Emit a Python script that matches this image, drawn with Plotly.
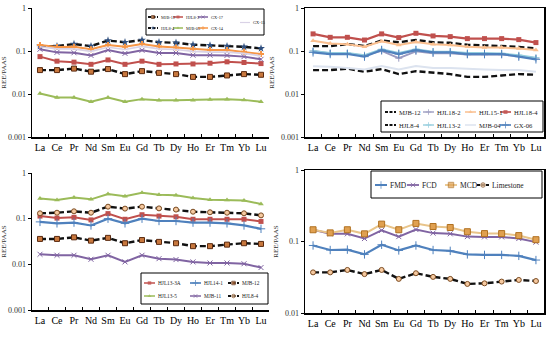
import plotly.graph_objects as go

elements = ["La", "Ce", "Pr", "Nd", "Sm", "Eu", "Gd", "Tb", "Dy", "Ho", "Er", "Tm", "Yb", "Lu"]

# Panel 1
mjb12 = [0.036, 0.036, 0.039, 0.033, 0.038, 0.029, 0.034, 0.031, 0.029, 0.025, 0.025, 0.027, 0.029, 0.028]
hjl8_4 = [0.13, 0.13, 0.145, 0.13, 0.175, 0.16, 0.18, 0.16, 0.155, 0.14, 0.135, 0.13, 0.125, 0.115]
hjl8_3 = [0.074, 0.058, 0.055, 0.049, 0.062, 0.049, 0.058, 0.049, 0.050, 0.050, 0.052, 0.056, 0.054, 0.051]
gx17 = [0.11, 0.093, 0.091, 0.079, 0.105, 0.088, 0.104, 0.090, 0.090, 0.080, 0.080, 0.079, 0.074, 0.064]
gx15 = [0.125, 0.112, 0.112, 0.098, 0.122, 0.108, 0.128, 0.112, 0.108, 0.098, 0.094, 0.094, 0.088, 0.077]
gx14 = [0.138, 0.124, 0.126, 0.110, 0.138, 0.126, 0.146, 0.128, 0.120, 0.110, 0.105, 0.105, 0.096, 0.085]
mjb05 = [0.0103, 0.0083, 0.0083, 0.0066, 0.0083, 0.0066, 0.0076, 0.0072, 0.0072, 0.0072, 0.0074, 0.0076, 0.0073, 0.0066]

# Panel 2
hjl18_4 = [0.25, 0.208, 0.208, 0.18, 0.25, 0.205, 0.258, 0.224, 0.216, 0.194, 0.194, 0.194, 0.184, 0.157]
hjl15_1 = [0.174, 0.15, 0.143, 0.126, 0.168, 0.138, 0.162, 0.143, 0.138, 0.126, 0.12, 0.12, 0.115, 0.105]
gx06 = [0.093, 0.085, 0.085, 0.074, 0.105, 0.085, 0.105, 0.093, 0.093, 0.085, 0.085, 0.085, 0.074, 0.064]
hjl18_2 = [0.10, 0.088, 0.088, 0.078, 0.10, 0.068, 0.098, 0.088, 0.088, 0.082, 0.082, 0.082, 0.076, 0.068]
hjl13_2 = [0.10, 0.09, 0.09, 0.08, 0.11, 0.09, 0.11, 0.097, 0.097, 0.09, 0.09, 0.088, 0.08, 0.07]
mjb04 = [0.044, 0.043, 0.040, 0.037, 0.045, 0.037, 0.045, 0.040, 0.040, 0.038, 0.037, 0.036, 0.036, 0.033]

# Panel 3
hjl13_5 = [0.275, 0.257, 0.289, 0.265, 0.348, 0.31, 0.37, 0.336, 0.325, 0.284, 0.26, 0.257, 0.25, 0.21]
hjl8_4b = [0.131, 0.135, 0.145, 0.135, 0.183, 0.166, 0.183, 0.168, 0.158, 0.142, 0.138, 0.135, 0.131, 0.118]
hjl13_3a = [0.114, 0.103, 0.107, 0.094, 0.129, 0.097, 0.122, 0.114, 0.11, 0.097, 0.097, 0.097, 0.097, 0.087]
hjl14_1 = [0.085, 0.079, 0.082, 0.071, 0.10, 0.079, 0.10, 0.089, 0.089, 0.082, 0.082, 0.079, 0.071, 0.06]
mjb11 = [0.0166, 0.0158, 0.0158, 0.0129, 0.0158, 0.0113, 0.0158, 0.0133, 0.0127, 0.0113, 0.0107, 0.0107, 0.0103, 0.0085]

# Panel 4
mcd = [0.146, 0.132, 0.146, 0.128, 0.175, 0.146, 0.179, 0.162, 0.157, 0.137, 0.129, 0.129, 0.121, 0.106]
fcd = [0.146, 0.128, 0.128, 0.11, 0.143, 0.117, 0.147, 0.131, 0.128, 0.117, 0.116, 0.116, 0.11, 0.098]
fmd = [0.088, 0.076, 0.077, 0.066, 0.09, 0.075, 0.088, 0.076, 0.074, 0.066, 0.065, 0.065, 0.063, 0.055]
limestone = [0.037, 0.037, 0.040, 0.035, 0.040, 0.030, 0.036, 0.032, 0.030, 0.0255, 0.026, 0.0275, 0.029, 0.028]

SERIF = "Liberation Serif"
BLACK = "#111111"
W, H = 550, 337
fig = go.Figure()


def style(color, width=1.8, dash=None, symbol=None, msize=5, mcolor=None, mline=None):
    return dict(color=color, width=width, dash=dash, symbol=symbol, msize=msize,
                mcolor=mcolor or color, mline=mline)


def marker(st, scale=1.0):
    return dict(symbol=st["symbol"] or "circle",
                size=(st["msize"] * scale) if st["symbol"] else 0,
                color=st["mcolor"],
                line=dict(color=st["mline"] or st["mcolor"], width=1 if st["mline"] else 0))


def add(y, name, ax, st):
    fig.add_trace(go.Scatter(
        x=elements, y=y, name=name, showlegend=False,
        mode="lines+markers" if st["symbol"] else "lines",
        line=dict(color=st["color"], width=st["width"], dash=st["dash"]),
        marker=marker(st), xaxis="x" + ax, yaxis="y" + ax))


DASH = "6px,3px"
S_MJB12 = style(BLACK, 2.4, DASH, "square", 5, "#c8783e", "#5a2a10")
S_HJL84_1 = style(BLACK, 2.4, DASH, "star", 6, "#2f4f7f")
S_RED = style("#c0504d", 2.0, None, "square", 5)
S_GREEN = style("#9bbb59", 2.0, None, "triangle-up", 5)
S_PURPLE = style("#8064a2", 2.0, None, "x-thin", 5, None, "#8064a2")
S_ORANGE = style("#f79646", 2.0, None, "cross", 5)
S_GX15 = style("#d9d2e6", 1.6)
S_DASH = style(BLACK, 2.4, DASH)
S_HJL182 = style("#9a9ac0", 1.8, None, "cross-thin", 5, None, "#9a9ac0")
S_HJL132 = style("#93cddd", 1.8, None, "cross-thin", 5, None, "#93cddd")
S_HJL151 = style("#fabf8f", 2.0, None, "triangle-up", 5)
S_MJB04 = style("#dce3ef", 2.0)
S_HJL184 = style("#c0504d", 2.2, None, "square", 5)
S_BLUE = style("#4f81bd", 2.2, None, "cross-thin", 6, None, "#4f81bd")
S_HJL84_3 = style(BLACK, 2.4, DASH, "circle", 5, "#f5c9a0", "#7a4a20")
S_MCD = style("#e8c48a", 2.0, None, "square", 6, "#e0a050", "#b07020")

# (values, name, style, legend column, legend row)
panels = {
    "": [(mjb12, "MJB-12", S_MJB12, 0, 0), (hjl8_4, "HJL8-4", S_HJL84_1, 0, 1),
         (hjl8_3, "HJL8-3", S_RED, 1, 0), (mjb05, "MJB-05", S_GREEN, 1, 1),
         (gx17, "GX-17", S_PURPLE, 2, 0), (gx14, "GX-14", S_ORANGE, 2, 1),
         (gx15, "GX-15", S_GX15, 3, 0.5)],
    "2": [(mjb12, "MJB-12", S_DASH, 0, 0), (hjl8_4, "HJL8-4", S_DASH, 0, 1),
          (hjl18_2, "HJL18-2", S_HJL182, 1, 0), (hjl13_2, "HJL13-2", S_HJL132, 1, 1),
          (hjl15_1, "HJL15-1", S_HJL151, 2, 0), (mjb04, "MJB-04", S_MJB04, 2, 1),
          (hjl18_4, "HJL18-4", S_HJL184, 3, 0), (gx06, "GX-06", S_BLUE, 3, 1)],
    "3": [(hjl13_3a, "HJL13-3A", S_RED, 0, 0), (hjl13_5, "HJL13-5", S_GREEN, 0, 1),
          (hjl14_1, "HJL14-1", S_BLUE, 1, 0), (mjb11, "MJB-11", S_PURPLE, 1, 1),
          (mjb12, "MJB-12", S_MJB12, 2, 0), (hjl8_4b, "HJL8-4", S_HJL84_3, 2, 1)],
    "4": [(fmd, "FMD", S_BLUE, 0, 0), (fcd, "FCD", S_PURPLE, 1, 0),
          (mcd, "MCD", S_MCD, 2, 0), (limestone, "Limestone", S_HJL84_3, 3, 0)],
}

# legend box layouts (pixels): box, column starts, row centres, key length, font size, marker scale
legend_layout = {
    "": dict(box=(146, 9, 264, 35), cols=[148, 173, 198, 240], rows=[17, 28], key=10, font=4.3, ms=0.6),
    "2": dict(box=(381, 101, 543, 132), cols=[385, 423, 465, 500], rows=[112, 125], key=11, font=6.6, ms=0.8),
    "3": dict(box=(141, 273, 268, 304), cols=[144, 190, 228], rows=[283, 296], key=11, font=5.3, ms=0.7),
    "4": dict(box=(371, 171, 542, 198), cols=[375, 407, 445, 477], rows=[185], key=12, font=7.5, ms=0.9),
}

for ax, series in panels.items():
    for vals, name, st, c, r in series:
        add(vals, name, ax, st)

# ---------------- legends drawn on an overlay pixel axis ----------------
shapes, annotations = [], []
for ax, series in panels.items():
    L = legend_layout[ax]
    x0, y0, x1, y1 = L["box"]
    shapes.append(dict(type="rect", xref="x5", yref="y5", x0=x0, y0=y0, x1=x1, y1=y1,
                       line=dict(color="black", width=1), fillcolor="white", layer="below"))
    rows = L["rows"]
    for vals, name, st, c, r in series:
        kx = L["cols"][c]
        ky = (rows[0] + rows[1]) / 2 if r == 0.5 else rows[int(r)]
        k = L["key"]
        mk = marker(st, L["ms"])
        mk["size"] = [0, mk["size"], 0]
        fig.add_trace(go.Scatter(
            x=[kx, kx + k / 2, kx + k], y=[ky, ky, ky], mode="lines+markers",
            line=dict(color=st["color"], width=st["width"] * (0.75 if L["ms"] < 0.85 else 0.9),
                      dash="3px,1.5px" if st["dash"] else None),
            marker=mk, showlegend=False, hoverinfo="skip", xaxis="x5", yaxis="y5"))
        annotations.append(dict(x=kx + k + 1, y=ky, xref="x5", yref="y5", text=name,
                                showarrow=False, xanchor="left", yanchor="middle",
                                font=dict(family=SERIF, size=L["font"], color="#222222")))

doms = {
    "": ([32 / W, 269 / W], [1 - 137 / H, 1 - 8 / H], [-3, 0], False),
    "2": ([305 / W, 544 / W], [1 - 137 / H, 1 - 8 / H], [-3, 0], True),
    "3": ([32 / W, 269 / W], [1 - 310 / H, 1 - 173 / H], [-3, 0], False),
    "4": ([305 / W, 544 / W], [1 - 313 / H, 1 - 170 / H], [-2, 0], True),
}
tick_vals = [0.001, 0.01, 0.1, 1]
tick_text = ["0.001", "0.01", "0.1", "1"]
for k, (xd, yd, yr, mirror) in doms.items():
    fig.layout["xaxis" + k] = dict(
        domain=xd, anchor="y" + k, type="category", range=[-0.47, 13.47], automargin=False,
        showline=True, linecolor="black", linewidth=1.5, mirror=mirror,
        ticks="inside", ticklen=3, tickson="boundaries", tickcolor="black", tickangle=0,
        showgrid=False, tickfont=dict(family=SERIF, size=10, color="black"))
    fig.layout["yaxis" + k] = dict(
        domain=yd, anchor="x" + k, type="log", range=yr, automargin=False,
        showline=True, linecolor="black", linewidth=1.5, mirror=mirror,
        ticks="outside", ticklen=3, tickcolor="black",
        tickvals=tick_vals, ticktext=tick_text, showgrid=False, zeroline=False,
        tickfont=dict(family=SERIF, size=8, color="#333333"),
        title=dict(text="REE/PAAS", font=dict(family=SERIF, size=7, color="#333333"), standoff=5))

fig.layout["xaxis5"] = dict(domain=[0, 1], range=[0, W], visible=False, fixedrange=True, anchor="y5")
fig.layout["yaxis5"] = dict(domain=[0, 1], range=[H, 0], visible=False, fixedrange=True, anchor="x5")

fig.update_layout(
    width=W, height=H, margin=dict(l=0, r=0, t=0, b=0),
    plot_bgcolor="rgba(0,0,0,0)", paper_bgcolor="white", showlegend=False,
    shapes=shapes, annotations=annotations,
)

fig.write_html("out.html", config={"displayModeBar": False, "staticPlot": True},
               post_script="document.body.style.margin='0';document.body.style.overflow='hidden';")
